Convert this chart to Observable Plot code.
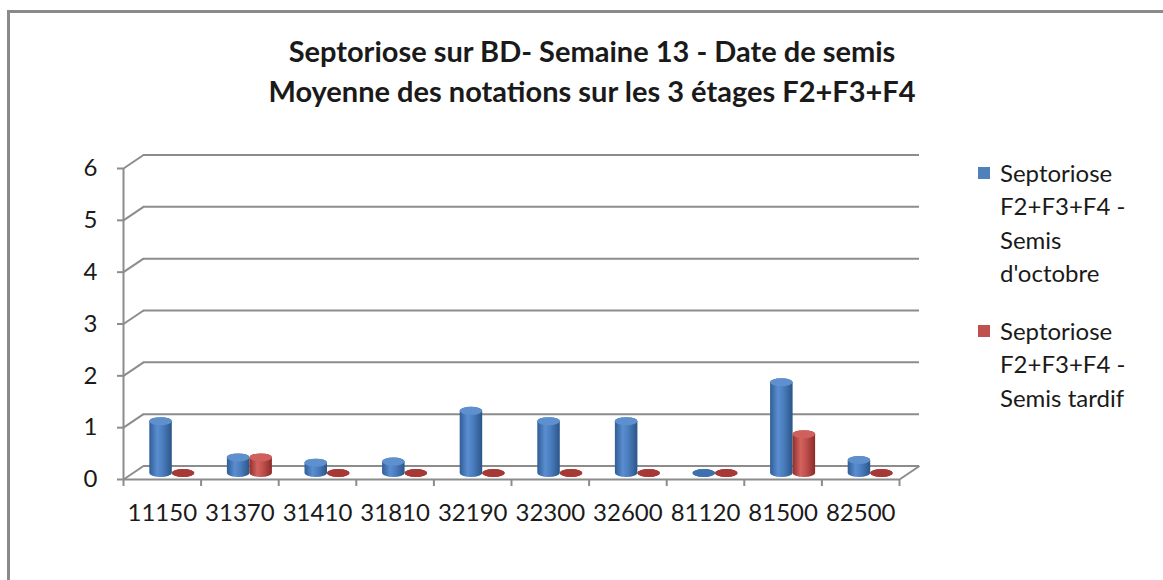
<!DOCTYPE html>
<html><head><meta charset="utf-8">
<script src="https://cdn.jsdelivr.net/npm/d3@7"></script>
<script src="https://cdn.jsdelivr.net/npm/@observablehq/plot@0.6"></script>
<style>
body{margin:0;width:1163px;height:580px;overflow:hidden;background:#fff;position:relative;font-family:Lato,"Open Sans",sans-serif;color:#1a1a1a}
#frame{position:absolute;left:7px;top:10px;width:1300px;height:700px;border:3px solid #8a8a8a;box-sizing:border-box}
#title{position:absolute;left:92px;top:31px;width:1000px;text-align:center;font-weight:bold;font-size:29px;line-height:40px;color:#1a1a1a}
#chart{position:absolute;left:0;top:0}
#legend{position:absolute;left:978px;top:156px;font-size:24px;line-height:33.3px;color:#1a1a1a}
.item{position:relative;padding-left:22px;margin-bottom:25px;width:170px}
.sw{position:absolute;left:0;top:11px;width:12px;height:12px}
</style></head><body>
<div id="frame"></div>
<div id="chart"></div>
<div id="title">Septoriose sur BD- Semaine 13 - Date de semis<br>Moyenne des notations sur les 3 étages F2+F3+F4</div>
<div id="legend"></div>
<script>
const categories = ["11150","31370","31410","31810","32190","32300","32600","81120","81500","82500"];
const semisOctobre = [1.0, 0.3, 0.2, 0.22, 1.2, 1.0, 1.0, 0.0, 1.75, 0.25];
const semisTardif  = [0.0, 0.3, 0.0, 0.0, 0.0, 0.0, 0.0, 0.0, 0.75, 0.0];
const yTicks = [0, 1, 2, 3, 4, 5, 6];
const seriesLines = [["Septoriose","F2+F3+F4 -","Semis","d'octobre"],["Septoriose","F2+F3+F4 -","Semis tardif"]];
const seriesColors = ["#4F81BD", "#C0504D"];

const W = 1163, H = 580, mL = 123, mR = 264, mT = 168, mB = 101;
const pxX = (W - mL - mR) / categories.length, pxY = (H - mT - mB) / 6;
const OX = 20 / pxX, OY = 13.5 / pxY;
const grid = "#8c8c8c";

const rows = categories.flatMap((c, i) => [
  {i, c, s: 0, v: semisOctobre[i]},
  {i, c, s: 1, v: semisTardif[i]}
]);
const bw = 0.29;
const X1 = d => d.i + 0.5 - bw + d.s * bw, X2 = d => d.i + 0.5 + d.s * bw;

const chart = Plot.plot({
  width: W, height: H,
  marginLeft: mL, marginRight: mR, marginTop: mT, marginBottom: mB,
  x: {type: "linear", domain: [0, categories.length], axis: null},
  y: {domain: [0, 6], axis: null},
  style: {fontFamily: "Lato, 'Open Sans', sans-serif", color: "#1a1a1a", background: "transparent", overflow: "visible"},
  marks: [
    Plot.ruleY(yTicks, {y: d => d + OY, x1: OX, x2: categories.length + OX, stroke: grid, strokeWidth: 2}),
    Plot.link(yTicks, {x1: 0, y1: d => d, x2: OX, y2: d => d + OY, stroke: grid, strokeWidth: 2}),
    Plot.link([0], {x1: categories.length, y1: 0, x2: categories.length + OX, y2: OY, stroke: grid, strokeWidth: 2}),
    Plot.ruleX([0], {y1: 0, y2: 6, stroke: grid, strokeWidth: 2}),
    Plot.ruleY([0], {x1: 0, x2: categories.length, stroke: grid, strokeWidth: 2}),
    Plot.axisY(yTicks, {anchor: "left", tickSize: 6, tickPadding: 20, fontSize: 24, tickFormat: d3.format("d"), stroke: grid, strokeWidth: 2, label: null}),
    Plot.axisX(d3.range(categories.length + 1), {anchor: "bottom", tickSize: 7, tickFormat: () => "", stroke: grid, strokeWidth: 2, label: null}),
    Plot.axisX(categories.map((c, i) => i + 0.5), {anchor: "bottom", tickSize: 0, tickPadding: 24, fontSize: 24, tickFormat: d => categories[Math.floor(d)], label: null}),
    Plot.rect(rows, {x1: X1, x2: X2, y1: 0, y2: "v", dx: 10, dy: -6, insetTop: -4, insetBottom: -4,
      rx: 11, ry: 4, fill: d => d.s === 0 ? "url(#gBlue)" : "url(#gRed)"}),
    Plot.rect(rows, {x1: X1, x2: X2, y1: "v", y2: "v", dx: 10, dy: -6, insetTop: -4, insetBottom: -4,
      rx: 11, ry: 4, fill: d => d.v === 0 ? (d.s === 0 ? "#3E70AE" : "#A63835") : (d.s === 0 ? "#5F90CE" : "#D0605C")})
  ]
});
const defs = `<defs>
<linearGradient id="gBlue" x1="0" x2="1" y1="0" y2="0">
<stop offset="0" stop-color="#2F5D96"/><stop offset="0.35" stop-color="#5B8ED0"/><stop offset="0.6" stop-color="#4A7DBE"/><stop offset="1" stop-color="#2B5588"/></linearGradient>
<linearGradient id="gRed" x1="0" x2="1" y1="0" y2="0">
<stop offset="0" stop-color="#8F2F2C"/><stop offset="0.35" stop-color="#D2635F"/><stop offset="0.6" stop-color="#C0504D"/><stop offset="1" stop-color="#8A2B28"/></linearGradient>
</defs>`;
chart.insertAdjacentHTML("afterbegin", defs);
document.getElementById("chart").appendChild(chart);

const legend = document.getElementById("legend");
seriesLines.forEach((lines, k) => {
  const it = document.createElement("div");
  it.className = "item";
  it.innerHTML = `<span class="sw" style="background:${seriesColors[k]}"></span>` + lines.join("<br>");
  legend.appendChild(it);
});
</script>
</body></html>
